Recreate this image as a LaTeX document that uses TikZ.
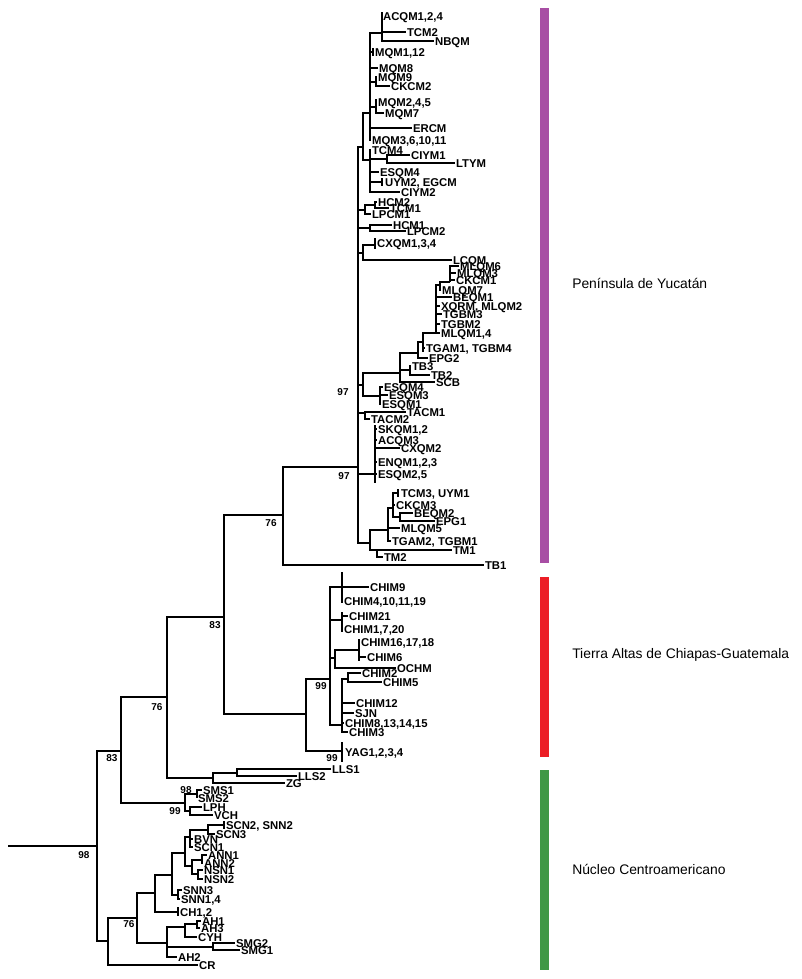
\documentclass[tikz,border=0pt]{standalone}
\usepackage{fontspec}
\setmainfont{Liberation Sans}
\newcommand\tipfont{\fontsize{8.5}{9}\selectfont\bfseries}
\newcommand\bsfont{\fontsize{7.5}{8}\selectfont\bfseries}
\newcommand\regfont{\fontsize{10.4}{12}\selectfont}
\definecolor{purp}{RGB}{168,78,164}
\definecolor{redb}{RGB}{236,30,38}
\definecolor{greenb}{RGB}{64,152,70}
\newcommand\tipnode[4]{\node[tl] (#1) at (#2,#3) {#4};}
\newcommand\kids[2]{\foreach \c in {#2}{\draw[br] (#1) |- (\c);}}
\tikzset{
  br/.style={line width=1.2pt, black},
  tl/.style={anchor=west, inner sep=0.6pt, font=\tipfont, text height=6.1pt, text depth=0pt},
  bs/.style={font=\bsfont, inner sep=0pt},
  reg/.style={anchor=west, font=\regfont, inner sep=0pt}
}
\begin{document}
\begin{tikzpicture}[x=0.75pt,y=-0.75pt]
\useasboundingbox (0,0) rectangle (801,979);
% ===== Yucatan =====
\coordinate (N97) at (358,467);
\coordinate (U) at (363,147);
\coordinate (U1) at (370,113);
\coordinate (T1) at (382,33);
\coordinate (T1top) at (382,12);
\tipnode{acqm}{382}{16}{ACQM1,2,4}
\tipnode{tcm2}{406}{32}{TCM2}
\tipnode{nbqm}{434}{41}{NBQM}
\kids{T1}{acqm,tcm2,nbqm}
\draw[br] (T1top) -- (T1);
\coordinate (MQa) at (373,52);
\coordinate (MQat) at (373,48);
\coordinate (MQab) at (373,56);
\tipnode{mqm112}{374}{52}{MQM1,12}
\draw[br] (MQat) -- (MQab);
\tipnode{mqm8}{378}{68}{MQM8}
\coordinate (MQ9) at (376,82);
\tipnode{mqm9}{377}{77}{MQM9}
\tipnode{ckcm2}{390}{86}{CKCM2}
\kids{MQ9}{mqm9,ckcm2}
\coordinate (MQ2) at (376,107);
\coordinate (MQ2t) at (376,99);
\tipnode{mqm245}{377}{102}{MQM2,4,5}
\tipnode{mqm7}{384}{113}{MQM7}
\kids{MQ2}{mqm245,mqm7}
\draw[br] (MQ2t) -- (MQ2);
\tipnode{ercm}{412}{128}{ERCM}
\tipnode{mqm3}{371}{140}{MQM3,6,10,11}
\kids{U1}{T1,MQa,mqm8,MQ9,MQ2,ercm,mqm3}
\coordinate (U3) at (370,160);
\tipnode{tcm4}{371}{150}{TCM4}
\coordinate (CL) at (387,159);
\tipnode{ciym1}{410}{155}{CIYM1}
\tipnode{ltym}{455}{163}{LTYM}
\kids{CL}{ciym1,ltym}
\tipnode{esqma}{379}{172}{ESQM4}
\coordinate (UY) at (382,182);
\coordinate (UYt) at (382,178);
\coordinate (UYb) at (382,186);
\tipnode{uym2}{384}{182}{UYM2, EGCM}
\draw[br] (UYt) -- (UYb);
\tipnode{ciym2}{400}{192}{CIYM2}
\kids{U3}{tcm4,CL,esqma,UY,ciym2}
\kids{U}{U1,U3}
\coordinate (HC) at (365,210);
\coordinate (HC2) at (375,205);
\tipnode{hcm2}{377}{202}{HCM2}
\tipnode{tcm1}{389}{208}{TCM1}
\tipnode{lpcm1}{371}{214}{LPCM1}
\kids{HC2}{hcm2,tcm1}
\kids{HC}{HC2,lpcm1}
\coordinate (HC1) at (370,228);
\tipnode{hcm1}{392}{225}{HCM1}
\tipnode{lpcm2}{406}{231}{LPCM2}
\kids{HC1}{hcm1,lpcm2}
\coordinate (CX) at (363,253);
\coordinate (CXs) at (375,245);
\coordinate (CXt) at (375,238);
\coordinate (CXb) at (375,249);
\tipnode{cxqm}{376}{243}{CXQM1,3,4}
\draw[br] (CXt) -- (CXb);
\tipnode{lcqm}{452}{260}{LCQM}
\kids{CX}{CXs,lcqm}
% MLQM clade
\coordinate (Y2) at (363,385);
\coordinate (Y3) at (400,373);
\coordinate (Y4) at (418,353);
\coordinate (Y5) at (423,342);
\coordinate (Y5b) at (423,352);
\coordinate (Y6) at (436,333);
\coordinate (Y7) at (440,285);
\coordinate (Y8) at (450,282);
\tipnode{mlqm6}{459}{266}{MLQM6}
\tipnode{mlqm3}{456}{273}{MLQM3}
\tipnode{ckcm1}{455}{280}{CKCM1}
\kids{Y8}{mlqm6,mlqm3,ckcm1}
\tipnode{mlqm7}{441}{290}{MLQM7}
\kids{Y7}{Y8,mlqm7}
\tipnode{beqm1}{452}{297}{BEQM1}
\tipnode{xqrm}{440}{306}{XQRM, MLQM2}
\tipnode{tgbm3}{442}{314}{TGBM3}
\tipnode{tgbm2}{440}{324}{TGBM2}
\tipnode{mlqm14}{440}{333}{MLQM1,4}
\kids{Y6}{Y7,beqm1,xqrm,tgbm3,tgbm2,mlqm14}
\tipnode{tgam1}{425}{348}{TGAM1, TGBM4}
\kids{Y5}{Y6,tgam1}
\draw[br] (Y5) -- (Y5b);
\tipnode{epg2}{428}{358}{EPG2}
\kids{Y4}{Y5,epg2}
\coordinate (TB) at (410,370);
\tipnode{tb3}{411}{366}{TB3}
\tipnode{tb2}{430}{375}{TB2}
\kids{TB}{tb3,tb2}
\tipnode{scb}{435}{382}{SCB}
\kids{Y3}{Y4,TB,scb}
\coordinate (ES) at (380,396);
\tipnode{esqmb}{383}{387}{ESQM4}
\tipnode{esqm3}{388}{395}{ESQM3}
\tipnode{esqm1}{381}{404}{ESQM1}
\kids{ES}{esqmb,esqm3,esqm1}
\kids{Y2}{Y3,ES}
\coordinate (TA) at (365,413);
\tipnode{tacm1}{406}{412}{TACM1}
\tipnode{tacm2}{370}{419}{TACM2}
\kids{TA}{tacm1,tacm2}
\coordinate (SK) at (375,474);
\coordinate (SKt) at (375,425);
\coordinate (SKb) at (375,483);
\draw[br] (SKt) -- (SKb);
\tipnode{skqm}{377}{429}{SKQM1,2}
\tipnode{acqm3}{377}{440}{ACQM3}
\tipnode{cxqm2}{400}{448}{CXQM2}
\tipnode{enqm}{377}{462}{ENQM1,2,3}
\tipnode{esqm25}{377}{474}{ESQM2,5}
\kids{SK}{skqm,acqm3,cxqm2,enqm,esqm25}
\coordinate (L0) at (370,543);
\coordinate (L1) at (388,530);
\coordinate (L3) at (393,508);
\coordinate (TU) at (398,493);
\coordinate (TUt) at (398,489);
\coordinate (TUb) at (398,497);
\draw[br] (TUt) -- (TUb);
\tipnode{tcm3}{400}{493}{TCM3, UYM1}
\tipnode{ckcm3}{395}{505}{CKCM3}
\coordinate (BE) at (400,517);
\tipnode{beqm2}{413}{513}{BEQM2}
\tipnode{epg1}{435}{521}{EPG1}
\kids{BE}{beqm2,epg1}
\kids{L3}{TU,ckcm3,BE}
\tipnode{mlqm5}{400}{528}{MLQM5}
\tipnode{tgam2}{391}{541}{TGAM2, TGBM1}
\kids{L1}{L3,mlqm5,tgam2}
\coordinate (L2) at (377,550);
\tipnode{tm1}{452}{550}{TM1}
\tipnode{tm2}{383}{557}{TM2}
\kids{L2}{tm1,tm2}
\kids{L0}{L1,L2}
\kids{N97}{U,HC,HC1,CX,Y2,TA,SK,L0}
\coordinate (N76b) at (283,515);
\tipnode{tb1}{484}{565}{TB1}
\kids{N76b}{N97,tb1}
% ===== Chiapas =====
\coordinate (N99c) at (306,714);
\coordinate (C1) at (330,679);
\coordinate (CH9) at (342,587);
\coordinate (CH9t) at (342,572);
\coordinate (CH9b) at (342,603);
\draw[br] (CH9t) -- (CH9b);
\tipnode{chim9}{369}{587}{CHIM9}
\tipnode{chim4}{343}{601}{CHIM4,10,11,19}
\kids{CH9}{chim9,chim4}
\coordinate (CH21) at (342,620);
\coordinate (CH21t) at (342,612);
\coordinate (CH21b) at (342,632);
\draw[br] (CH21t) -- (CH21b);
\tipnode{chim21}{348}{616}{CHIM21}
\tipnode{chim1}{343}{629}{CHIM1,7,20}
\kids{CH21}{chim21,chim1}
\coordinate (OC) at (335,658);
\coordinate (CH16) at (359,650);
\coordinate (CH16t) at (359,639);
\coordinate (CH16b) at (359,661);
\draw[br] (CH16t) -- (CH16b);
\tipnode{chim16}{360}{642}{CHIM16,17,18}
\tipnode{chim6}{366}{657}{CHIM6}
\kids{CH16}{chim16,chim6}
\tipnode{ochm}{396}{668}{OCHM}
\kids{OC}{CH16,ochm}
\coordinate (C2) at (342,725);
\coordinate (CH2) at (348,679);
\tipnode{chim2}{361}{673}{CHIM2}
\tipnode{chim5}{382}{682}{CHIM5}
\kids{CH2}{chim2,chim5}
\tipnode{chim12}{355}{703}{CHIM12}
\tipnode{sjn}{354}{713}{SJN}
\tipnode{chim8}{344}{723}{CHIM8,13,14,15}
\tipnode{chim3}{348}{732}{CHIM3}
\kids{C2}{CH2,chim12,sjn,chim8,chim3}
\kids{C1}{CH9,CH21,OC,C2}
\coordinate (YAG) at (342,751);
\coordinate (YAGt) at (342,742);
\coordinate (YAGb) at (342,762);
\draw[br] (YAGt) -- (YAGb);
\tipnode{yag}{344}{752}{YAG1,2,3,4}
\kids{N99c}{C1,YAG}
\coordinate (N83b) at (224,617);
\kids{N83b}{N76b,N99c}
% ===== LLS / ZG =====
\coordinate (LZ) at (213,778);
\coordinate (LL) at (237,773);
\tipnode{lls1}{331}{769}{LLS1}
\tipnode{lls2}{297}{776}{LLS2}
\tipnode{zg}{285}{783}{ZG}
\kids{LL}{lls1,lls2}
\kids{LZ}{LL,zg}
\coordinate (N76a) at (167,697);
\kids{N76a}{N83b,LZ}
\coordinate (P) at (185,803);
\coordinate (S1) at (197,794);
\tipnode{sms1}{202}{790}{SMS1}
\tipnode{sms2}{197}{798}{SMS2}
\kids{S1}{sms1,sms2}
\coordinate (S2) at (190,811);
\tipnode{lph}{202}{807}{LPH}
\tipnode{vch}{213}{815}{VCH}
\kids{S2}{lph,vch}
\kids{P}{S1,S2}
\coordinate (N83a) at (121,751);
\kids{N83a}{N76a,P}
% ===== Nucleo =====
\coordinate (B0) at (108,941);
\coordinate (B1) at (137,918);
\coordinate (B2) at (155,893);
\coordinate (B3) at (172,875);
\coordinate (B4) at (185,853);
\coordinate (B5) at (190,837);
\coordinate (SC) at (208,830);
\coordinate (SCt) at (224,825);
\coordinate (SCtt) at (224,821);
\coordinate (SCtb) at (224,829);
\draw[br] (SCtt) -- (SCtb);
\tipnode{scn2}{225}{825}{SCN2, SNN2}
\tipnode{scn3}{215}{834}{SCN3}
\kids{SC}{SCt,scn3}
\tipnode{bvn}{193}{839}{BVN}
\tipnode{scn1}{193}{847}{SCN1}
\kids{B5}{SC,bvn,scn1}
\coordinate (B6) at (192,866);
\coordinate (B7) at (202,860);
\tipnode{ann1}{207}{855}{ANN1}
\tipnode{ann2}{203}{863}{ANN2}
\kids{B7}{ann1,ann2}
\coordinate (B8) at (198,874);
\tipnode{nsn1}{203}{870}{NSN1}
\tipnode{nsn2}{203}{879}{NSN2}
\kids{B8}{nsn1,nsn2}
\kids{B6}{B7,B8}
\kids{B4}{B5,B6}
\coordinate (SN) at (178,895);
\tipnode{snn3}{182}{890}{SNN3}
\tipnode{snn14}{180}{899}{SNN1,4}
\kids{SN}{snn3,snn14}
\kids{B3}{B4,SN}
\coordinate (CHt) at (178,912);
\coordinate (CHtt) at (178,907);
\coordinate (CHtb) at (178,916);
\draw[br] (CHtt) -- (CHtb);
\tipnode{ch12}{179}{912}{CH1,2}
\kids{B2}{B3,CHt}
\coordinate (B9) at (167,943);
\coordinate (B10) at (185,927);
\coordinate (AH) at (197,924);
\tipnode{ah1}{201}{921}{AH1}
\tipnode{ah3}{200}{928}{AH3}
\kids{AH}{ah1,ah3}
\tipnode{cyh}{197}{937}{CYH}
\kids{B10}{AH,cyh}
\coordinate (SMG) at (213,947);
\tipnode{smg2}{235}{943}{SMG2}
\tipnode{smg1}{240}{950}{SMG1}
\kids{SMG}{smg2,smg1}
\tipnode{ah2}{177}{957}{AH2}
\kids{B9}{B10,SMG,ah2}
\kids{B1}{B2,B9}
\tipnode{cr}{198}{965}{CR}
\kids{B0}{B1,cr}
% ===== root =====
\coordinate (R) at (97,846);
\coordinate (root0) at (8,846);
\draw[br] (root0) -- (R);
\kids{R}{N83a,B0}
% ===== bootstrap =====
\node[bs] (bs1) at (343,392) {97};
\node[bs] (bs2) at (344,476) {97};
\node[bs] (bs3) at (271,523) {76};
\node[bs] (bs4) at (215,625) {83};
\node[bs] (bs5) at (321,686) {99};
\node[bs] (bs6) at (332,758) {99};
\node[bs] (bs7) at (186,790) {98};
\node[bs] (bs8) at (175,811) {99};
\node[bs] (bs9) at (112,758) {83};
\node[bs] (bs10) at (157,707) {76};
\node[bs] (bs11) at (84,855) {98};
\node[bs] (bs12) at (129,924) {76};
% ===== region bars =====
\fill[purp] (540,8) rectangle (549,563);
\fill[redb] (540,577) rectangle (549,757);
\fill[greenb] (540,770) rectangle (549,970);
\node[reg] (rg1) at (572,283) {Península de Yucatán};
\node[reg] (rg2) at (572,655) {Tierra Altas de Chiapas-Guatemala};
\node[reg] (rg3) at (572,869) {Núcleo Centroamericano};
\end{tikzpicture}
\end{document}
